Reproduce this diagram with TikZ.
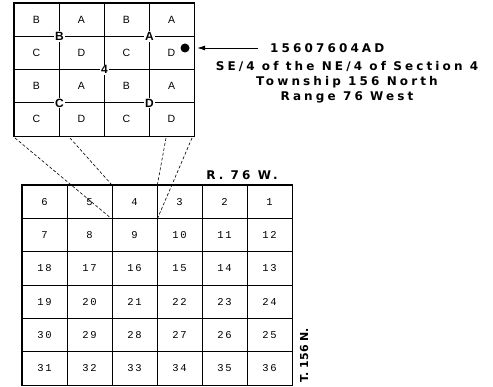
\documentclass[tikz,border=0pt]{standalone}
\usepackage{fontspec}
\setmainfont{Liberation Sans}
\newfontfamily\lblfont{DejaVu Sans}[LetterSpace=26]
\newfontfamily\tfont{DejaVu Sans}
\newfontfamily\numfont{Liberation Mono}[LetterSpace=15]
\usetikzlibrary{arrows.meta,positioning}
\tikzset{
  qq/.style = {draw, line width=0.8pt, minimum width=45pt, minimum height=33.25pt, inner sep=0pt, font=\fontsize{10.5}{11}\selectfont},
  qlab/.style = {fill=white, inner sep=1pt, font=\fontsize{12}{13}\selectfont\bfseries},
  sec/.style = {draw, line width=0.8pt, minimum width=45pt, minimum height=33.33pt, inner sep=0pt, font=\numfont\fontsize{10.5}{11}\selectfont},
  lbl/.style = {font=\lblfont\bfseries\fontsize{12}{15}\selectfont, align=center, inner sep=0pt},
  proj/.style = {densely dashed, line width=0.6pt},
  arrow/.style = {line width=0.8pt, -{Latex[length=8pt,width=5pt]}}
}
\begin{document}
\begin{tikzpicture}[x=1pt,y=-1pt]
\useasboundingbox (0,0) rectangle (493,387);
% quarter-quarters of section 4
\foreach \l [count=\i from 0] in {B,A,B,A,C,D,C,D,B,A,B,A,C,D,C,D}{
  \pgfmathtruncatemacro\c{mod(\i,4)}
  \pgfmathtruncatemacro\r{int(\i/4)}
  \node[qq] (q\i) at ({36.5+45*\c},{19.6+33.25*\r}) {\l};
}
\draw[line width=1.2pt] (q0.north west) rectangle (q15.south east);
\node[qlab] (qB) at (q0.south east) {B};
\node[qlab] (qA) at (q2.south east) {A};
\node[qlab] (q4) at (q5.south east) {4};
\node[qlab] (qC) at (q8.south east) {C};
\node[qlab] (qD) at (q10.south east) {D};
% well location
\node[circle, fill, inner sep=0pt, minimum size=9pt] (well) at (185,48) {};
\node[lbl, anchor=west] (legal) at (270,48) {15607604AD};
\draw[arrow, shorten <=12pt, shorten >=7.5pt] (legal.west) -- (well.east);
\node[lbl] (desc) at (347,82) {SE/4 of the NE/4 of Section 4\\Township 156 North\\Range 76 West};
% township sections
\foreach \n [count=\i from 0] in {6,5,4,3,2,1,7,8,9,10,11,12,18,17,16,15,14,13,19,20,21,22,23,24,30,29,28,27,26,25,31,32,33,34,35,36}{
  \pgfmathtruncatemacro\c{mod(\i,6)}
  \pgfmathtruncatemacro\r{int(\i/6)}
  \node[sec] (s\n) at ({44.5+45*\c},{201.67+33.33*\r}) {\n};
}
\draw[line width=1.6pt] (s6.north west) rectangle (s36.south east);
\node[lbl] (rng) at (242,175) {R. 76 W.};
\node[font=\tfont\bfseries\fontsize{11}{12}\selectfont, rotate=90, inner sep=0pt] (twp) at (304,355) {T. 156 N.};
% projection to section 4
\coordinate (p1) at (15,138);
\coordinate (p2) at (70,138);
\coordinate (p3) at (166,138);
\coordinate (p4) at (192,138);
\draw[proj] (p1) -- (s4.south west);
\draw[proj] (p2) -- (s4.north west);
\draw[proj] (p3) -- (s4.north east);
\draw[proj] (p4) -- (s4.south east);
\end{tikzpicture}
\end{document}
